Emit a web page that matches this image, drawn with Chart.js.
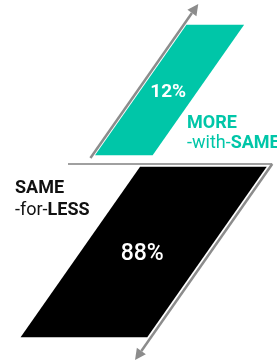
<!DOCTYPE html>
<html>
<head>
<meta charset="utf-8">
<script src="https://cdn.jsdelivr.net/npm/chart.js@4.4.1/dist/chart.umd.min.js"></script>
<style>
  html, body { margin: 0; padding: 0; background: #fff; }
  canvas { display: block; }
</style>
</head>
<body>
<canvas id="grafico" width="277" height="364"></canvas>
<script>
const categories = ["MORE-with-SAME", "SAME-for-LESS"];
const shares = [12, 88];
const fillColors = ["#00c6a8", "#000000"];
const textColors = ["#00c6a8", "#111111"];

const SKEW = 0.7;      // horizontal shift per pixel of height
const BASE_Y = 164;    // the horizontal divider
const H = 364;

// shear a point around the divider line
function sx(x, y) {
  return x + SKEW * (BASE_Y - y);
}

// min/max so that 0 lands on fromPx and value on toPx
function rangeUp(value, fromPx, toPx) {
  let ppu = (fromPx - toPx) / value;
  return { min: -(H - fromPx) / ppu, max: value + toPx / ppu };
}
function rangeDown(value, fromPx, toPx) {
  let ppu = (toPx - fromPx) / value;
  return { min: -fromPx / ppu, max: value + (H - toPx) / ppu };
}

let up = rangeUp(shares[0], 155, 25);
let down = rangeDown(shares[1], 167, 337);

function arrow(ctx, x1, y1, x2, y2) {
  let ang = Math.atan2(y2 - y1, x2 - x1);
  let len = 11, half = 5.5;
  let bx = x2 - len * Math.cos(ang), by = y2 - len * Math.sin(ang);
  ctx.beginPath();
  ctx.moveTo(x1, y1);
  ctx.lineTo(bx, by);
  ctx.stroke();
  ctx.beginPath();
  ctx.moveTo(x2, y2);
  ctx.lineTo(bx + half * Math.sin(ang), by - half * Math.cos(ang));
  ctx.lineTo(bx - half * Math.sin(ang), by + half * Math.cos(ang));
  ctx.closePath();
  ctx.fill();
}

function labelLines(text) {
  let i = text.indexOf("-");
  let first = text.slice(0, i);
  let rest = text.slice(i);
  let j = rest.lastIndexOf("-") + 1;
  return [first, rest.slice(0, j), rest.slice(j)];
}

const shearPlugin = {
  id: "shear",
  beforeDatasetDraw(chart) {
    let ctx = chart.ctx;
    ctx.save();
    ctx.transform(1, 0, -SKEW, 1, SKEW * BASE_Y, 0);
  },
  afterDatasetDraw(chart) {
    chart.ctx.restore();
  },
  afterDatasetsDraw(chart) {
    let ctx = chart.ctx;
    let teal = chart.getDatasetMeta(0).data[0];
    let black = chart.getDatasetMeta(1).data[1];

    ctx.save();
    ctx.strokeStyle = "#8c8c8c";
    ctx.fillStyle = "#8c8c8c";
    ctx.lineCap = "butt";

    // up axis, left of the teal bar
    ctx.lineWidth = 2.5;
    let ax = teal.x - teal.width / 2 - 3;
    arrow(ctx, sx(ax, 158), 158, sx(ax, 4), 4);

    // divider and down axis, right of the black bar
    let bx = black.x + black.width / 2 + 4;
    ctx.strokeStyle = "#a0a0a0";
    ctx.lineWidth = 2;
    ctx.beginPath();
    ctx.moveTo(68, BASE_Y);
    ctx.lineTo(bx, BASE_Y);
    ctx.stroke();
    ctx.strokeStyle = "#8c8c8c";
    ctx.lineWidth = 2.5;
    arrow(ctx, bx, BASE_Y, sx(bx, 360), 360);

    // values inside the bars
    ctx.fillStyle = "#ffffff";
    ctx.textAlign = "center";
    ctx.textBaseline = "middle";
    let bars = [teal, black];
    let fonts = ["bold 19px Roboto", "500 23px Roboto"];
    bars.forEach((bar, i) => {
      let my = (bar.y + bar.base) / 2 + 2;
      ctx.font = fonts[i];
      ctx.fillText(shares[i] + "%", sx(bar.x, my), my);
    });

    // category labels
    let spots = [[187, 128, 20], [15, 193, 22]];
    ctx.textAlign = "left";
    ctx.textBaseline = "alphabetic";
    categories.forEach((name, i) => {
      let parts = labelLines(name);
      let [x, y, gap] = spots[i];
      ctx.fillStyle = textColors[i];
      ctx.font = "bold 18px Roboto";
      ctx.fillText(parts[0], x, y);
      ctx.font = "normal 18px Roboto";
      ctx.fillText(parts[1], x, y + gap);
      let w = ctx.measureText(parts[1]).width;
      ctx.font = "bold 18px Roboto";
      ctx.fillText(parts[2], x + w, y + gap);
    });
    ctx.restore();
  }
};

new Chart(document.getElementById("grafico"), {
  type: "bar",
  data: {
    labels: categories,
    datasets: [
      {
        label: categories[0],
        data: [shares[0], null],
        backgroundColor: fillColors[0],
        yAxisID: "yUp",
        barThickness: 57,
        grouped: false,
        clip: false
      },
      {
        label: categories[1],
        data: [null, shares[1]],
        backgroundColor: fillColors[1],
        yAxisID: "yDown",
        barThickness: 126,
        grouped: false,
        clip: false
      }
    ]
  },
  options: {
    responsive: false,
    animation: false,
    devicePixelRatio: 1,
    layout: { padding: { left: 74, right: 28, top: 0, bottom: 0 } },
    plugins: {
      legend: { display: false },
      tooltip: { enabled: false }
    },
    scales: {
      x: { display: false },
      yUp: { display: false, position: "left", min: up.min, max: up.max },
      yDown: { display: false, position: "right", reverse: true, min: down.min, max: down.max }
    }
  },
  plugins: [shearPlugin]
});
</script>
</body>
</html>
